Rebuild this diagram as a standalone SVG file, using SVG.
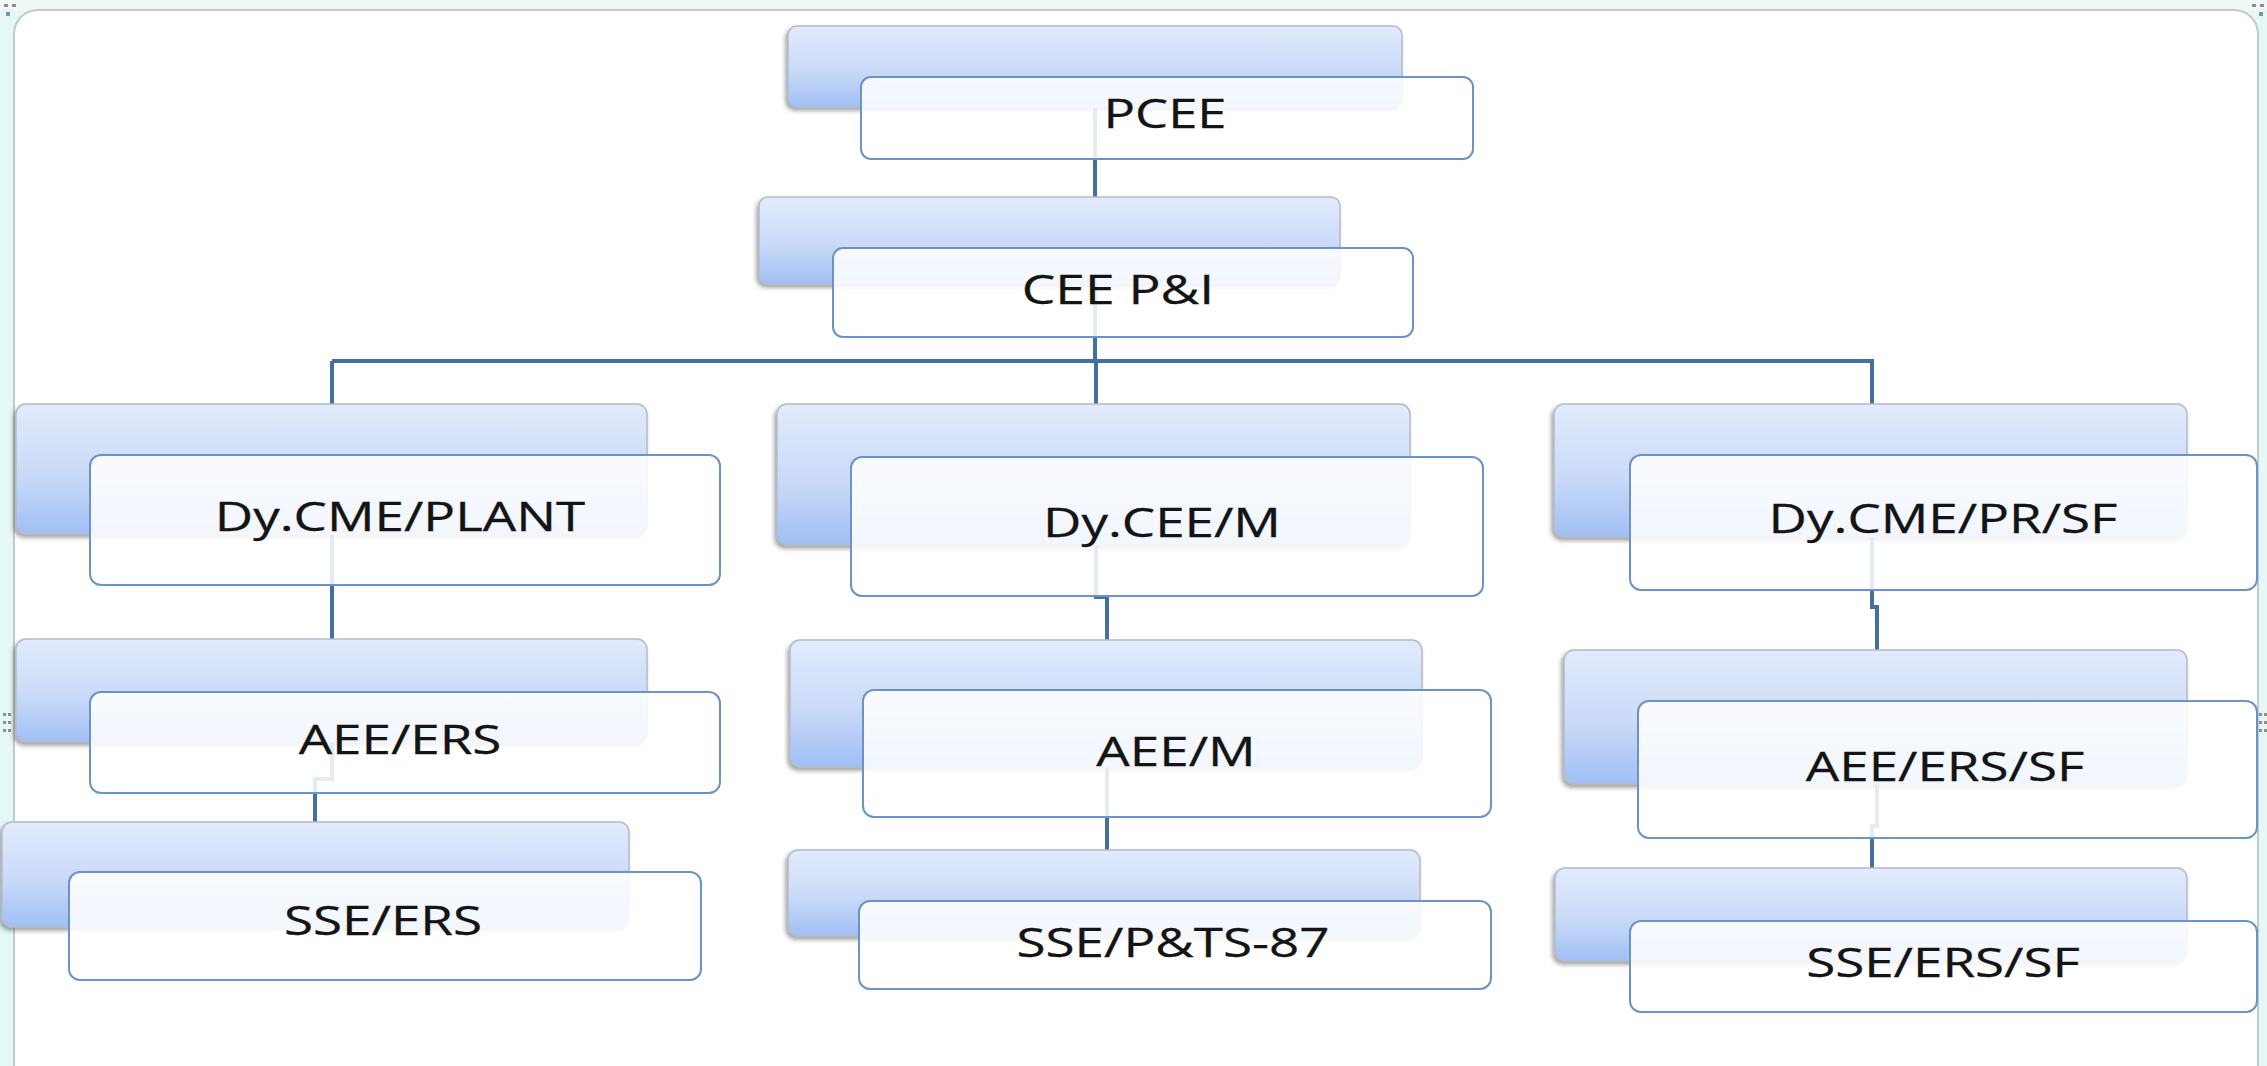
<svg xmlns="http://www.w3.org/2000/svg" width="2267" height="1066" viewBox="0 0 2267 1066">
<defs>
<linearGradient id="backGrad" x1="0" y1="0" x2="0" y2="1">
<stop offset="0" stop-color="#e2ebfc"/>
<stop offset="0.55" stop-color="#c9daf8"/>
<stop offset="1" stop-color="#a0bff5"/>
</linearGradient>
<filter id="shadow" x="-5%" y="-10%" width="110%" height="125%">
<feDropShadow dx="-2" dy="3" stdDeviation="2" flood-color="#555" flood-opacity="0.55"/>
</filter>
<style>
.back{fill:url(#backGrad);stroke:#b4bcc8;stroke-width:1.5;filter:url(#shadow)}
.front{fill:#ffffff;fill-opacity:0.86;stroke:#6b93c8;stroke-width:2}
.lbl{font-family:"Open Sans","Liberation Sans",sans-serif;font-size:39.5px;fill:#141414;text-anchor:middle;stroke:#141414;stroke-width:0.3}
.conn{fill:none;stroke:#43709f;stroke-width:4}
.handle{fill:#8a9090}
</style>
</defs>
<rect x="0" y="0" width="2267" height="1066" fill="#e4f8f8"/>
<rect x="0" y="0" width="2267" height="10" fill="#f3f6f6"/>
<rect x="14" y="10" width="2244" height="1100" rx="24" fill="#ffffff" stroke="#c4c9cc" stroke-width="2"/>
<g id="handles">
<rect class="handle" x="4" y="4" width="4" height="3"/><rect class="handle" x="12" y="4" width="4" height="3"/><rect class="handle" x="6" y="12" width="4" height="4"/>
<rect class="handle" x="2252" y="4" width="4" height="3"/><rect class="handle" x="2260" y="4" width="4" height="3"/><rect class="handle" x="2259" y="12" width="4" height="4"/>
<rect class="handle" x="3" y="713" width="3" height="3"/><rect class="handle" x="8" y="713" width="3" height="3"/><rect class="handle" x="3" y="721" width="3" height="3"/><rect class="handle" x="8" y="721" width="3" height="3"/><rect class="handle" x="3" y="729" width="3" height="3"/><rect class="handle" x="8" y="729" width="3" height="3"/>
<rect class="handle" x="2259" y="713" width="3" height="3"/><rect class="handle" x="2264" y="713" width="3" height="3"/><rect class="handle" x="2259" y="721" width="3" height="3"/><rect class="handle" x="2264" y="721" width="3" height="3"/><rect class="handle" x="2259" y="729" width="3" height="3"/><rect class="handle" x="2264" y="729" width="3" height="3"/>
</g>
<g id="connectors">
<path class="conn" d="M1095 100 V361"/>
<path class="conn" d="M332 361 H1874"/>
<path class="conn" d="M332 361 V779 H315 V830"/>
<path class="conn" d="M1096 361 V597 H1107 V855"/>
<path class="conn" d="M1872 361 V607 H1877 V787 V826 H1872 V875"/>
</g>
<g id="node-pcee">
<rect class="back" x="788" y="26" width="614" height="81" rx="9"/>
<rect class="front" x="861" y="77" width="612" height="82" rx="10"/>
<text class="lbl" transform="translate(1165 128) scale(1.33 1)">PCEE</text>
</g>
<g id="node-cee">
<rect class="back" x="759" y="197" width="581" height="87" rx="9"/>
<rect class="front" x="833" y="248" width="580" height="89" rx="10"/>
<text class="lbl" transform="translate(1118 304) scale(1.35 1)">CEE P&amp;I</text>
</g>
<g id="node-dycme-plant">
<rect class="back" x="16" y="404" width="631" height="130" rx="10"/>
<rect class="front" x="90" y="455" width="630" height="130" rx="11"/>
<text class="lbl" transform="translate(400 531) scale(1.34 1)">Dy.CME/PLANT</text>
</g>
<g id="node-aee-ers">
<rect class="back" x="16" y="639" width="631" height="103" rx="10"/>
<rect class="front" x="90" y="692" width="630" height="101" rx="11"/>
<text class="lbl" transform="translate(400 754) scale(1.34 1)">AEE/ERS</text>
</g>
<g id="node-sse-ers">
<rect class="back" x="2" y="822" width="627" height="105" rx="10"/>
<rect class="front" x="69" y="872" width="632" height="108" rx="11"/>
<text class="lbl" transform="translate(383 935) scale(1.34 1)">SSE/ERS</text>
</g>
<g id="node-dycee-m">
<rect class="back" x="777" y="404" width="633" height="141" rx="10"/>
<rect class="front" x="851" y="457" width="632" height="139" rx="11"/>
<text class="lbl" transform="translate(1162 537) scale(1.34 1)">Dy.CEE/M</text>
</g>
<g id="node-aee-m">
<rect class="back" x="790" y="640" width="632" height="127" rx="10"/>
<rect class="front" x="863" y="690" width="628" height="127" rx="11"/>
<text class="lbl" transform="translate(1176 766) scale(1.34 1)">AEE/M</text>
</g>
<g id="node-sse-pts">
<rect class="back" x="788" y="850" width="632" height="86" rx="10"/>
<rect class="front" x="859" y="901" width="632" height="88" rx="11"/>
<text class="lbl" transform="translate(1173 957) scale(1.34 1)">SSE/P&amp;TS-87</text>
</g>
<g id="node-dycme-pr-sf">
<rect class="back" x="1554" y="404" width="633" height="133" rx="10"/>
<rect class="front" x="1630" y="455" width="627" height="135" rx="11"/>
<text class="lbl" transform="translate(1943 533) scale(1.34 1)">Dy.CME/PR/SF</text>
</g>
<g id="node-aee-ers-sf">
<rect class="back" x="1564" y="650" width="623" height="134" rx="10"/>
<rect class="front" x="1638" y="701" width="619" height="137" rx="11"/>
<text class="lbl" transform="translate(1945 781) scale(1.34 1)">AEE/ERS/SF</text>
</g>
<g id="node-sse-ers-sf">
<rect class="back" x="1555" y="868" width="632" height="93" rx="10"/>
<rect class="front" x="1630" y="921" width="627" height="91" rx="11"/>
<text class="lbl" transform="translate(1943 977) scale(1.34 1)">SSE/ERS/SF</text>
</g>
</svg>
